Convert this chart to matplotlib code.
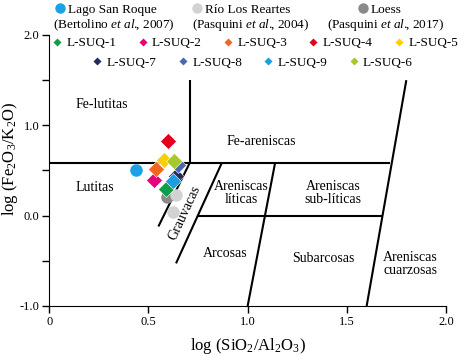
import matplotlib
matplotlib.use("Agg")
import matplotlib.pyplot as plt
from matplotlib.lines import Line2D

plt.rcParams['font.family'] = ['Liberation Serif', 'DejaVu Serif']
plt.rcParams['mathtext.fontset'] = 'custom'
plt.rcParams['mathtext.rm'] = 'Liberation Serif'
plt.rcParams['mathtext.it'] = 'Liberation Serif:italic'

# reference samples (circles)
ref_names = ['Lago San Roque', 'Río Los Reartes', 'Loess']
ref_cites = [r'(Bertolino $\mathit{et\ al.}\!\!$, 2007)',
             r'(Pasquini $\mathit{et\ al.}\!\!$, 2004)',
             r'(Pasquini $\mathit{et\ al.}\!\!$, 2017)']
ref_colors = ['#1ba1e6', '#d2d2d2', '#8a8a8a']
ref_x = [[0.436], [0.639, 0.625], [0.592]]
ref_y = [[0.51], [0.23, 0.036], [0.21]]

# L-SUQ samples (diamonds)
suq_names = ['L-SUQ-1', 'L-SUQ-2', 'L-SUQ-3', 'L-SUQ-4', 'L-SUQ-5',
             'L-SUQ-7', 'L-SUQ-8', 'L-SUQ-9', 'L-SUQ-6']
suq_colors = ['#0f9d48', '#e6007e', '#f26522', '#e3001b', '#fcd000',
              '#262a5e', '#4a68ad', '#1b9de2', '#a5c72f']
suq_x = [0.588, 0.530, 0.536, 0.600, 0.578, 0.639, 0.647, 0.625, 0.630]
suq_y = [0.30, 0.39, 0.52, 0.83, 0.62, 0.44, 0.56, 0.38, 0.60]

# classification field boundaries (Herron, 1988)
bound_x = [[0.0, 1.72], [0.71, 0.71], [0.746, 1.676], [1.6, 1.8],
           [1.0, 1.138], [0.869, 0.639], [0.707, 0.55]]
bound_y = [[0.58, 0.58], [0.58, 1.5], [0.0, 0.0], [-1.0, 1.5],
           [-1.0, 0.58], [0.58, -0.528], [0.58, -0.12]]

fields = ['Fe-lutitas', 'Lutitas', 'Fe-areniscas', 'Areniscas\nlíticas', 'Arcosas',
          'Areniscas\nsub-líticas', 'Subarcosas', 'Areniscas\ncuarzosas']
field_x = [0.264, 0.23, 1.07, 0.97, 0.886, 1.43, 1.38, 1.82]
field_y = [1.23, 0.31, 0.82, 0.25, -0.42, 0.25, -0.47, -0.53]

fig = plt.figure(figsize=(4.58, 3.57), dpi=100)
ax = fig.add_axes([0.1076, 0.1429, 0.8662, 0.7591])

for bx, by in zip(bound_x, bound_y):
    ax.plot(bx, by, color='black', lw=1.5, solid_capstyle='butt', zorder=2)

for name, x, y in zip(fields, field_x, field_y):
    ax.text(x, y, name, ha='center', va='center', fontsize=10, linespacing=1.0)
ax.text(0.684, 0.03, 'Grauvacas', ha='center', va='center', fontsize=10, rotation=65)

# circles (draw Loess first, then Reartes, then San Roque)
for i in [2, 1, 0]:
    ax.plot(ref_x[i], ref_y[i], 'o', color=ref_colors[i], ms=9, mec='none', zorder=3)

for x, y, c in zip(suq_x, suq_y, suq_colors):
    ax.plot(x, y, 'D', color=c, ms=8.5, mec='white', mew=0.4, zorder=4)

ax.set_xlim(0, 2.0)
ax.set_ylim(-1.0, 2.0)
ax.set_xticks([0, 0.5, 1.0, 1.5, 2.0])
ax.set_xticklabels(['0', '0.5', '1.0', '1.5', '2.0'])
ax.set_yticks([-1.0, 0.0, 1.0, 2.0])
ax.set_yticklabels(['-1.0', '0.0', '1.0', '2.0'])
ax.set_yticks([-0.5, 0.5, 1.5], minor=True)
ax.tick_params(direction='out', length=5, width=1, labelsize=9, pad=2)
ax.tick_params(which='minor', direction='out', length=5, width=1)
for s in ['top', 'right']:
    ax.spines[s].set_visible(False)
ax.set_xlabel(r'log (SiO$_2$/Al$_2$O$_3$)', fontsize=12, labelpad=6)
ax.set_ylabel(r'log (Fe$_2$O$_3$/K$_2$O)', fontsize=12)
ax.yaxis.set_label_coords(-0.074, 0.542)

# legends: one per reference sample so the spacing follows the original
ref_marker_px = [60, 197, 363]
for px, c, name in zip(ref_marker_px, ref_colors, ref_names):
    h = Line2D([], [], marker='o', ls='none', color=c, ms=7.5, mec='none')
    fig.legend([h], [name], loc='center left', bbox_to_anchor=((px - 6.5) / 458, 0.972),
               frameon=False, fontsize=9.5, handletextpad=0.1, handlelength=1.0,
               borderpad=0, borderaxespad=0)
cite_x = [0.249, 0.548, 0.843]
for cx, cite in zip(cite_x, ref_cites):
    fig.text(cx, 0.930, cite, ha='center', va='center', fontsize=9.5)

suq_handles = [Line2D([], [], marker='D', ls='none', color=c, ms=4.5, mec='none') for c in suq_colors]
fig.legend(suq_handles[:5], suq_names[:5], loc='center', bbox_to_anchor=(0.555, 0.879),
           ncol=5, frameon=False, fontsize=9.5, handletextpad=0.2,
           columnspacing=1.5, handlelength=1.0, borderpad=0)
fig.legend(suq_handles[5:], suq_names[5:], loc='center', bbox_to_anchor=(0.55, 0.824),
           ncol=4, frameon=False, fontsize=9.5, handletextpad=0.2,
           columnspacing=1.5, handlelength=1.0, borderpad=0)

fig.savefig('out.png', dpi=100)
